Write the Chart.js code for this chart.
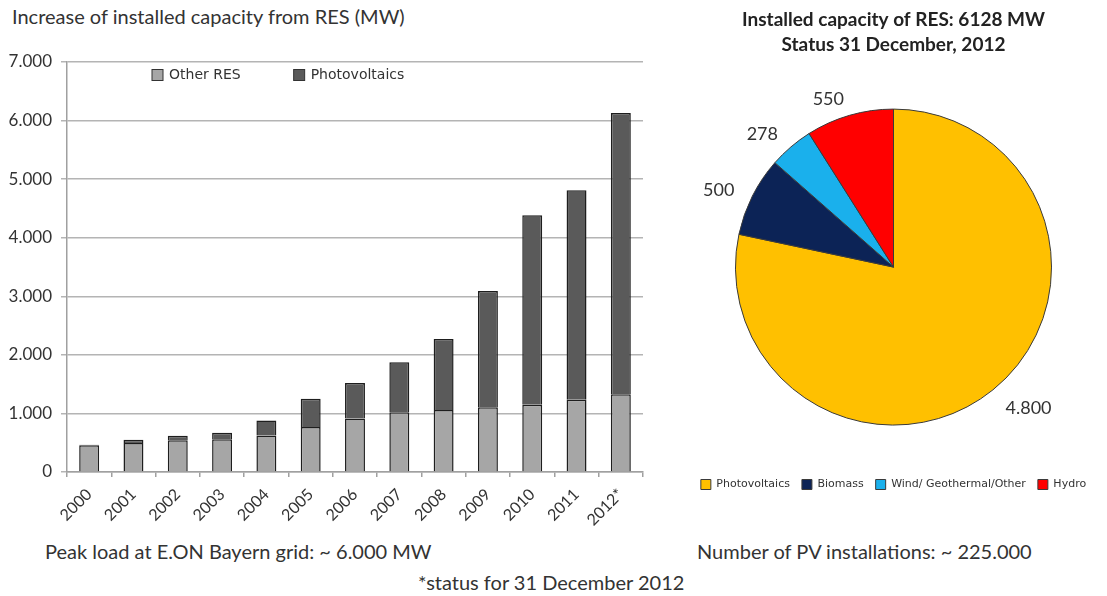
<!DOCTYPE html>
<html>
<head>
<meta charset="utf-8">
<script src="https://cdn.jsdelivr.net/npm/chart.js@4.4.1/dist/chart.umd.min.js"></script>
<style>
  body { margin: 0; background: #fff; width: 1107px; height: 596px; position: relative; overflow: hidden; font-family: Lato, 'Open Sans', sans-serif; color: #333; }
  canvas { position: absolute; }
  .txt { position: absolute; white-space: nowrap; }
</style>
</head>
<body>
<div class="txt" id="barTitle" style="left:12px; top:4px; font-size:20px;">Increase of installed capacity from RES (MW)</div>
<canvas id="barChart" width="660" height="490" style="left:0; top:40px;"></canvas>
<canvas id="pieChart" width="427" height="500" style="left:680px; top:0;"></canvas>
<div class="txt" style="left:45px; top:539px; font-size:20px;">Peak load at E.ON Bayern grid: ~ 6.000 MW</div>
<div class="txt" style="left:697px; top:539px; font-size:20px;">Number of PV installations: ~ 225.000</div>
<div class="txt" style="left:418px; top:570px; font-size:20px;">*status for 31 December 2012</div>
<script>
// bar chart data
const years = ['2000', '2001', '2002', '2003', '2004', '2005', '2006', '2007', '2008', '2009', '2010', '2011', '2012*'];
const otherRes = [455, 495, 540, 560, 625, 770, 915, 1020, 1060, 1105, 1150, 1235, 1328];
const photovoltaics = [12, 57, 80, 110, 255, 480, 605, 855, 1210, 1985, 3235, 3575, 4800];

// pie chart data
const pieLabels = ['Photovoltaics', 'Biomass', 'Wind/ Geothermal/Other', 'Hydro'];
const pieValues = [4800, 500, 278, 550];
const pieColors = ['#ffc000', '#0c2356', '#1ab0ec', '#ff0000'];

const fmt = (v) => String(v).replace(/\B(?=(\d{3})+(?!\d))/g, '.');

// legend drawn inside the plot, under the top gridline
const innerLegend = {
  id: 'innerLegend',
  afterDraw(chart) {
    const ctx = chart.ctx;
    const area = chart.chartArea;
    let x = area.left + 85;
    const y = area.top + 13;
    ctx.save();
    ctx.font = '14px "DejaVu Sans"';
    ctx.textBaseline = 'middle';
    chart.data.datasets.forEach((ds) => {
      ctx.fillStyle = ds.backgroundColor;
      ctx.strokeStyle = '#333';
      ctx.lineWidth = 1;
      ctx.fillRect(x, y - 5.5, 11, 11);
      ctx.strokeRect(x, y - 5.5, 11, 11);
      ctx.fillStyle = '#333';
      ctx.fillText(ds.label, x + 17, y);
      x += 17 + ctx.measureText(ds.label).width + 53;
    });
    ctx.restore();
  }
};

new Chart(document.getElementById('barChart'), {
  type: 'bar',
  data: {
    labels: years,
    datasets: [
      { label: 'Other RES', data: otherRes, backgroundColor: '#a6a6a6', borderColor: '#1e1e1e', borderWidth: 1.5 },
      { label: 'Photovoltaics', data: photovoltaics, backgroundColor: '#5a5a5a', borderColor: '#1e1e1e', borderWidth: 1.5 }
    ]
  },
  options: {
    responsive: false,
    animation: false,
    layout: { padding: { top: 22, right: 17 } },
    datasets: { bar: { barPercentage: 0.45, categoryPercentage: 1 } },
    scales: {
      x: {
        stacked: true,
        grid: { drawOnChartArea: false, color: '#a0a0a0', tickLength: 5, lineWidth: 1.5 },
        border: { color: '#a0a0a0', width: 1.5 },
        ticks: { autoSkip: false, minRotation: 45, maxRotation: 45, padding: 8, color: '#333', font: { family: 'Lato', size: 16 } },
        afterFit(scale) { scale.height = 58; }
      },
      y: {
        stacked: true,
        min: 0,
        max: 7000,
        grid: { color: '#b4b4b4', lineWidth: 1.5, tickLength: 6 },
        border: { color: '#a0a0a0', width: 1.5 },
        ticks: { stepSize: 1000, padding: 9, color: '#333', font: { family: 'Lato', size: 17 }, callback: (v) => fmt(v) },
        afterFit(scale) { scale.width = 67; }
      }
    },
    plugins: {
      legend: { display: false },
      tooltip: { enabled: false }
    }
  },
  plugins: [innerLegend]
});

// value labels outside the pie slices
const sliceLabels = {
  id: 'sliceLabels',
  afterDraw(chart) {
    const ctx = chart.ctx;
    const meta = chart.getDatasetMeta(0);
    ctx.save();
    ctx.font = '18px Lato';
    ctx.fillStyle = '#333';
    ctx.textBaseline = 'middle';
    meta.data.forEach((arc, i) => {
      const p = arc.getProps(['x', 'y', 'startAngle', 'endAngle', 'outerRadius']);
      const mid = (p.startAngle + p.endAngle) / 2;
      const r = p.outerRadius + 20;
      const lx = p.x + Math.cos(mid) * r;
      const ly = p.y + Math.sin(mid) * r + 3;
      ctx.textAlign = lx < p.x ? 'right' : 'left';
      ctx.fillText(fmt(chart.data.datasets[0].data[i]), lx, ly);
    });
    ctx.restore();
  }
};

new Chart(document.getElementById('pieChart'), {
  type: 'pie',
  data: {
    labels: pieLabels,
    datasets: [{ data: pieValues, backgroundColor: pieColors, borderColor: '#3a3a3a', borderWidth: 1 }]
  },
  options: {
    responsive: false,
    animation: false,
    radius: 158,
    plugins: {
      title: {
        display: true,
        text: ['Installed capacity of RES: 6128 MW', 'Status 31 December, 2012'],
        color: '#222',
        font: { family: 'Lato', size: 19, weight: 'bold', lineHeight: 1.32 },
        padding: { top: 7, bottom: 10 }
      },
      legend: {
        position: 'bottom',
        labels: { boxWidth: 10, boxHeight: 10, padding: 12, color: '#333', font: { family: 'DejaVu Sans', size: 11 } }
      },
      tooltip: { enabled: false }
    }
  },
  plugins: [sliceLabels]
});
</script>
</body>
</html>
